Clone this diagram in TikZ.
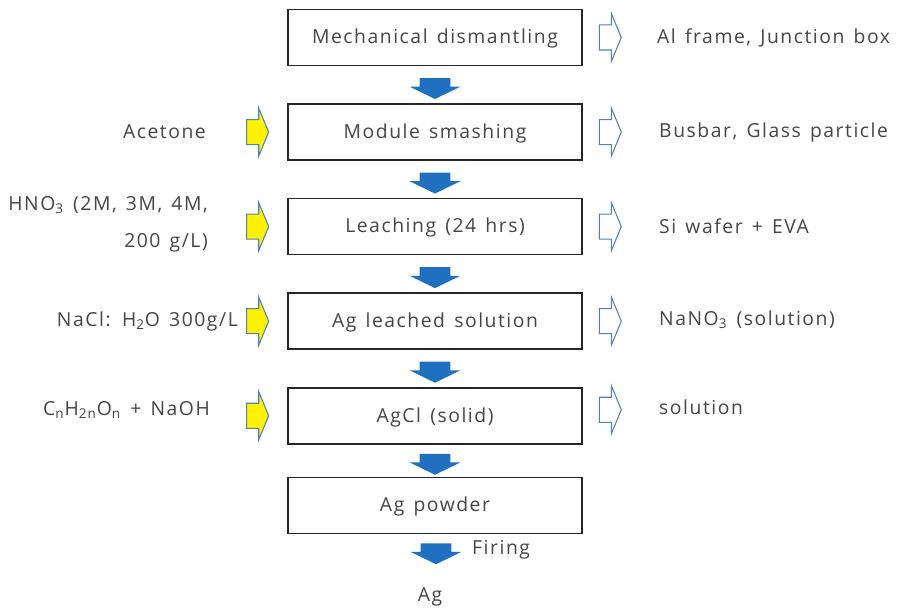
\documentclass[tikz,border=0pt]{standalone}
\usepackage{fontspec}
\setmainfont{Open Sans}[LetterSpace=8,WordSpace=1.4]
\usepackage{xcolor}
\usetikzlibrary{positioning,shapes.arrows,calc}
\definecolor{flowblue}{HTML}{1F70C1}
\definecolor{rimblue}{HTML}{4F81BD}
\definecolor{inkgray}{HTML}{454545}

\begin{document}
\begin{tikzpicture}[x=0.02cm,y=-0.02cm,node distance=7.4mm,
                    every node/.style={font=\fontsize{11}{14}\selectfont,text=inkgray},
                    box/.style={draw=black!85,line width=0.9pt,minimum width=5.88cm,
                                minimum height=1.12cm,inner sep=0pt,
                                text height=1.33ex,text depth=0pt},
                    down/.style={single arrow,fill=flowblue,draw=none,rotate=-90,
                                 inner xsep=0pt,inner ysep=0.3cm,minimum height=0.42cm,
                                 single arrow head extend=0.2cm,single arrow tip angle=128},
                    feed/.style={single arrow,fill=yellow,draw=rimblue,line width=0.6pt,
                                 inner xsep=0pt,inner ysep=0.24cm,minimum height=0.44cm,
                                 single arrow head extend=0.23cm,single arrow tip angle=135},
                    waste/.style={feed,fill=white}]
  \useasboundingbox (0,0) rectangle (901,611);

  \node[box] (dism) at (435,37.5) {Mechanical dismantling};
  \node[box,below=of dism]  (smash) {Module smashing};
  \node[box,below=of smash] (leach) {Leaching (24 hrs)};
  \node[box,below=of leach] (soln)  {Ag leached solution};
  \node[box,below=of soln]  (agcl)  {AgCl (solid)};
  \node[box,below=6.4mm of agcl] (powder) {Ag powder};

  \node[down] (d1) at ($(dism.south)!.5!(smash.north)$) {};
  \node[down] (d2) at ($(smash.south)!.5!(leach.north)$) {};
  \node[down] (d3) at ($(leach.south)!.5!(soln.north)$) {};
  \node[down] (d4) at ($(soln.south)!.5!(agcl.north)$) {};
  \node[down] (d5) at ($(agcl.south)!.5!(powder.north)$) {};
  \node[down] (d6) at (436,550) {};
  \node[anchor=west] (firing) at (466,550) {Firing};
  \node (ag) at (430,597) {Ag};

  \node[feed,left=3.6mm of smash] (in2) {};
  \node[feed,left=3.6mm of leach] (in3) {};
  \node[feed,left=3.6mm of soln]  (in4) {};
  \node[feed,left=3.6mm of agcl]  (in5) {};

  \node[waste,right=3.2mm of dism]  (out1) {};
  \node[waste,right=3.2mm of smash] (out2) {};
  \node[waste,right=3.2mm of leach] (out3) {};
  \node[waste,right=3.2mm of soln]  (out4) {};
  \node[waste,right=3.2mm of agcl,yshift=1.2mm] (out5) {};

  \node[anchor=east] (acetone) at (212,132) {Acetone};
  \node[anchor=east,align=right,font=\fontsize{11}{21}\selectfont] (hno) at (214,224)
       {HNO\textsubscript{3} (2M, 3M, 4M,\\200 g/L)};
  \node[anchor=east] (nacl) at (244,321) {NaCl: H\textsubscript{2}O 300g/L};
  \node[anchor=east] (sugar) at (216,410)
       {C\textsubscript{n}H\textsubscript{2n}O\textsubscript{n} + NaOH};

  \node[anchor=west] (frame)  at (651,38)  {Al frame, Junction box};
  \node[anchor=west] (busbar) at (653,132) {Busbar, Glass particle};
  \node[anchor=west] (wafer)  at (653,226) {Si wafer + EVA};
  \node[anchor=west] (nano)   at (653,320) {NaNO\textsubscript{3} (solution)};
  \node[anchor=west] (rest)   at (653,407) {solution};
\end{tikzpicture}
\end{document}
